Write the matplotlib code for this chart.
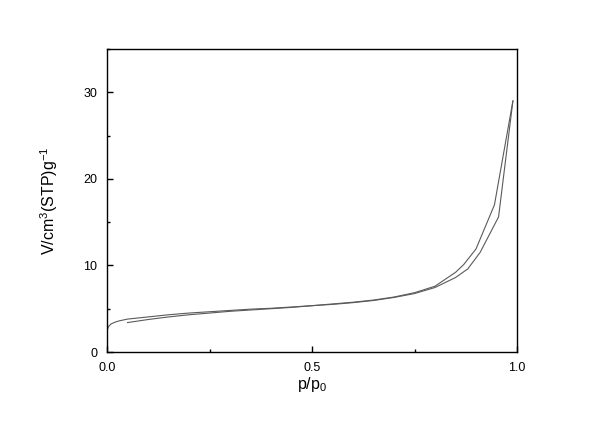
import matplotlib
matplotlib.use("Agg")
import matplotlib.pyplot as plt
from matplotlib.ticker import MultipleLocator

plt.rcParams['font.family'] = ['Liberation Sans', 'DejaVu Sans']
plt.rcParams['mathtext.fontset'] = 'custom'
plt.rcParams['mathtext.rm'] = 'Liberation Sans'
plt.rcParams['mathtext.it'] = 'Liberation Sans'

p_ads = [0.0, 0.004, 0.01, 0.02, 0.03, 0.05, 0.08, 0.10, 0.15, 0.20, 0.25, 0.30, 0.35, 0.40,
         0.45, 0.50, 0.55, 0.60, 0.65, 0.70, 0.75, 0.80, 0.85, 0.88, 0.91, 0.955, 0.99]
v_ads = [2.5, 2.95, 3.25, 3.45, 3.6, 3.8, 3.95, 4.05, 4.3, 4.5, 4.65, 4.8, 4.95, 5.05,
         5.2, 5.35, 5.5, 5.7, 5.95, 6.3, 6.75, 7.45, 8.6, 9.6, 11.5, 15.6, 29.0]

p_des = [0.99, 0.945, 0.90, 0.87, 0.85, 0.80, 0.75, 0.70, 0.65, 0.60, 0.55, 0.50,
         0.45, 0.40, 0.35, 0.30, 0.25, 0.20, 0.15, 0.10, 0.05]
v_des = [29.0, 17.0, 11.9, 10.1, 9.2, 7.6, 6.85, 6.35, 6.0, 5.75, 5.55, 5.35,
         5.15, 5.0, 4.85, 4.7, 4.5, 4.3, 4.05, 3.75, 3.4]

fig = plt.figure(figsize=(6.0, 4.23), dpi=100)
ax = fig.add_axes([107/600, 1 - 352/423, 410/600, 303/423])

ax.plot(p_ads, v_ads, color='#5a5a5a', lw=0.8)
ax.plot(p_des, v_des, color='#5a5a5a', lw=0.8)

ax.set_xlim(0, 1.0)
ax.set_ylim(0, 35)
ax.xaxis.set_major_locator(MultipleLocator(0.5))
ax.xaxis.set_minor_locator(MultipleLocator(0.25))
ax.yaxis.set_major_locator(MultipleLocator(10))
ax.yaxis.set_minor_locator(MultipleLocator(5))
ax.tick_params(which='both', direction='in', top=False, right=False, labelsize=9, width=1.0)
ax.tick_params(axis='x', which='major', pad=7)
ax.tick_params(axis='y', which='major', pad=7)
ax.tick_params(which='major', length=4)
ax.tick_params(which='minor', length=2.5)
for s in ax.spines.values():
    s.set_linewidth(1.0)

ax.set_xlabel(r'p/p$_0$', fontsize=11.5, labelpad=1)
ax.set_ylabel(r'V/cm$^3$(STP)g$^{-1}$', fontsize=11.5, labelpad=17)

fig.savefig('out.png', dpi=100)
